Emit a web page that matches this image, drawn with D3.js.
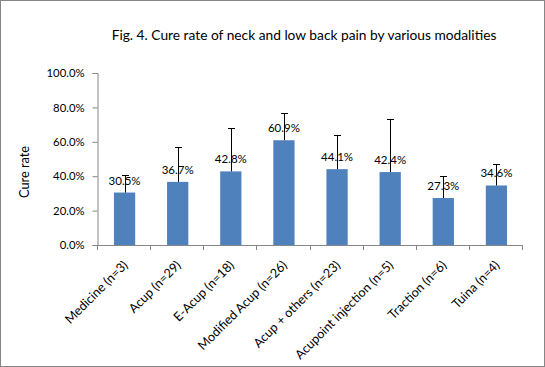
<!DOCTYPE html>
<html>
<head>
<meta charset="utf-8">
<script src="https://cdnjs.cloudflare.com/ajax/libs/d3/7.8.5/d3.min.js"></script>
<style>
  body { margin: 0; background: #fff; }
  text { font-family: Lato, "Open Sans", sans-serif; fill: #000; }
</style>
</head>
<body>
<script>
var categories = ['Medicine (n=3)', 'Acup (n=29)', 'E-Acup (n=18)', 'Modified Acup (n=26)',
                  'Acup + others (n=23)', 'Acupoint injection (n=5)', 'Traction (n=6)', 'Tuina (n=4)'];
var cureRate = [30.5, 36.7, 42.8, 60.9, 44.1, 42.4, 27.3, 34.6];
var errPlus = [10.0, 20.1, 25.0, 15.7, 19.7, 30.7, 12.6, 12.3];
var yTicks = [0, 20, 40, 60, 80, 100];
var title = 'Fig. 4. Cure rate of neck and low back pain by various modalities';
var yTitle = 'Cure rate';

var width = 545, height = 367;
var plot = {left: 98, right: 523, top: 73, bottom: 245};

var svg = d3.select('body').append('svg')
  .attr('width', width)
  .attr('height', height);

// pick a font size so that a sample string gets roughly the wanted width
function fitSize(sample, target) {
  var t = svg.append('text').attr('font-size', 20).text(sample);
  var w = t.node().getComputedTextLength();
  t.remove();
  return 20 * target / w;
}
var titleSize = fitSize(title, 385);
var tickSize = fitSize('100.0%', 38);
var valSize = fitSize('60.9%', 32);
var catSize = fitSize('Acupoint injection (n=5)', 133);
var yTitleSize = fitSize(yTitle, 52);

// frame
svg.append('rect')
  .attr('x', 0.5).attr('y', 0.5)
  .attr('width', width - 1).attr('height', height - 1)
  .attr('fill', '#fff').attr('stroke', '#868686');

var x = d3.scaleBand()
  .domain(categories)
  .range([plot.left, plot.right]);

var y = d3.scaleLinear()
  .domain([0, 100])
  .range([plot.bottom, plot.top]);

// title
svg.append('text')
  .attr('x', 304).attr('y', 40)
  .attr('text-anchor', 'middle')
  .attr('font-size', titleSize)
  .text(title);

// y axis
var yAxis = d3.axisLeft(y)
  .tickValues(yTicks)
  .tickSize(5)
  .tickFormat(function(d) { return d.toFixed(1) + '%'; });

var gy = svg.append('g')
  .attr('transform', 'translate(' + (plot.left - 0.5) + ',0)')
  .call(yAxis);
gy.select('.domain').attr('stroke', '#868686');
gy.selectAll('.tick line').attr('stroke', '#868686');
gy.selectAll('.tick text')
  .attr('font-size', tickSize)
  .attr('font-family', 'Lato, "Open Sans", sans-serif')
  .attr('x', -13);

svg.append('text')
  .attr('transform', 'translate(29,' + 172 + ') rotate(-90)')
  .attr('text-anchor', 'middle')
  .attr('font-size', yTitleSize)
  .text(yTitle);

// bars
var barW = x.bandwidth() / 2.5;
svg.selectAll('rect.bar')
  .data(cureRate)
  .enter()
  .append('rect')
  .attr('class', 'bar')
  .attr('x', function(d, i) { return x(categories[i]) + (x.bandwidth() - barW) / 2; })
  .attr('y', function(d) { return y(d); })
  .attr('width', barW)
  .attr('height', function(d) { return y(0) - y(d); })
  .attr('fill', '#4F81BD');

// x axis
svg.append('line')
  .attr('x1', plot.left).attr('x2', plot.right)
  .attr('y1', plot.bottom + 0.5).attr('y2', plot.bottom + 0.5)
  .attr('stroke', '#868686');

var bounds = categories.map(function(c) { return x(c); }).concat([plot.right]);
svg.selectAll('line.xtick')
  .data(bounds)
  .enter()
  .append('line')
  .attr('class', 'xtick')
  .attr('x1', function(d) { return Math.round(d) - 0.5; })
  .attr('x2', function(d) { return Math.round(d) - 0.5; })
  .attr('y1', plot.bottom).attr('y2', plot.bottom + 5)
  .attr('stroke', '#868686');

svg.selectAll('text.xlab')
  .data(categories)
  .enter()
  .append('text')
  .attr('class', 'xlab')
  .attr('text-anchor', 'end')
  .attr('font-size', catSize)
  .attr('transform', function(d) {
    return 'translate(' + (x(d) + x.bandwidth() / 2 + 4) + ',' + (plot.bottom + 21) + ') rotate(-45)';
  })
  .text(function(d) { return d; });

// error bars (plus only)
var eb = svg.selectAll('g.err')
  .data(cureRate)
  .enter()
  .append('g')
  .attr('class', 'err');

eb.append('line')
  .attr('x1', function(d, i) { return Math.round(x(categories[i]) + x.bandwidth() / 2) + 0.5; })
  .attr('x2', function(d, i) { return Math.round(x(categories[i]) + x.bandwidth() / 2) + 0.5; })
  .attr('y1', function(d) { return y(d); })
  .attr('y2', function(d, i) { return y(d + errPlus[i]); })
  .attr('stroke', '#000');

eb.append('line')
  .attr('x1', function(d, i) { return Math.round(x(categories[i]) + x.bandwidth() / 2) - 3; })
  .attr('x2', function(d, i) { return Math.round(x(categories[i]) + x.bandwidth() / 2) + 4; })
  .attr('y1', function(d, i) { return Math.round(y(d + errPlus[i])) + 0.5; })
  .attr('y2', function(d, i) { return Math.round(y(d + errPlus[i])) + 0.5; })
  .attr('stroke', '#000');

// data labels
svg.selectAll('text.val')
  .data(cureRate)
  .enter()
  .append('text')
  .attr('class', 'val')
  .attr('text-anchor', 'middle')
  .attr('font-size', valSize)
  .attr('x', function(d, i) { return x(categories[i]) + x.bandwidth() / 2; })
  .attr('y', function(d) { return y(d) - 8; })
  .text(function(d) { return d.toFixed(1) + '%'; });
</script>
</body>
</html>
